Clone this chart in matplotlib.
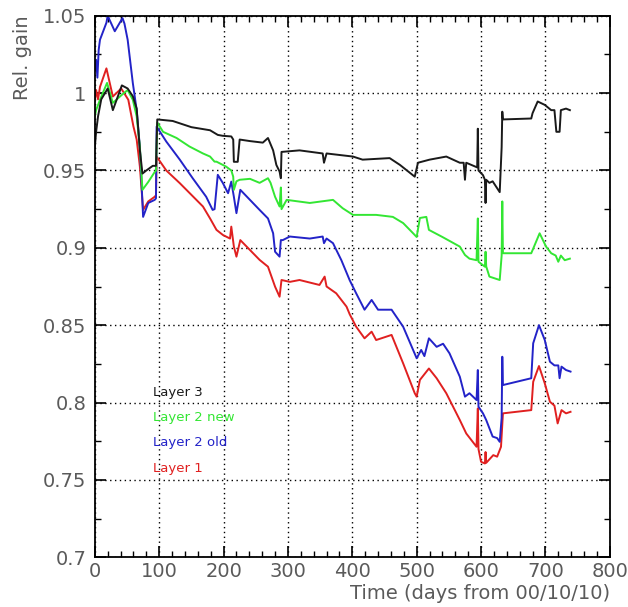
import matplotlib
matplotlib.use("Agg")
import matplotlib.pyplot as plt
from matplotlib.ticker import MultipleLocator, FormatStrFormatter, FuncFormatter

# Layer 3 (black)
days_l3 = [0, 2, 5, 10, 20, 28, 42, 51, 59, 65, 70, 74, 80, 90, 95, 97, 121, 150,
           179, 191, 199, 212, 215, 216, 222, 225, 241, 261, 269, 277, 282, 287,
           289, 290, 318, 354, 356, 360, 401, 416, 458, 474, 497, 502, 520, 546,
           567, 573, 575, 577, 594, 595, 596, 603, 606, 607, 608, 613, 618, 629,
           632, 633, 634, 678, 680, 688, 699, 709, 714, 717, 722, 724, 732, 738]
gain_l3 = [0.965, 0.975, 0.985, 0.996, 1.003, 0.989, 1.005, 1.003, 0.998, 0.990,
           0.963, 0.948, 0.950, 0.953, 0.953, 0.983, 0.982, 0.978, 0.976, 0.973,
           0.9724, 0.972, 0.970, 0.9556, 0.9556, 0.970, 0.969, 0.968, 0.971, 0.963,
           0.9536, 0.9493, 0.945, 0.962, 0.963, 0.961, 0.955, 0.961, 0.959, 0.957,
           0.958, 0.9536, 0.946, 0.955, 0.957, 0.959, 0.955, 0.955, 0.944, 0.955,
           0.952, 0.977, 0.950, 0.947, 0.944, 0.929, 0.944, 0.942, 0.943, 0.936,
           0.965, 0.988, 0.983, 0.9836, 0.987, 0.9946, 0.9924, 0.989, 0.989, 0.975,
           0.975, 0.989, 0.990, 0.989]

# Layer 2 new (green)
days_l2n = [0, 2, 8, 19, 28, 42, 51, 59, 65, 70, 74, 83, 93, 95, 97, 106, 127, 147,
            168, 179, 186, 189, 204, 212, 215, 216, 220, 225, 241, 256, 269, 273,
            280, 287, 289, 290, 298, 334, 370, 385, 401, 437, 463, 479, 494, 500,
            505, 515, 519, 540, 567, 575, 582, 593, 595, 596, 606, 607, 608, 613,
            629, 632, 633, 634, 678, 691, 701, 709, 716, 720, 724, 730, 738]
gain_l2n = [0.985, 0.989, 0.9957, 1.0066, 0.9937, 0.9989, 1.002, 0.9957, 0.985,
            0.965, 0.9375, 0.9426, 0.949, 0.950, 0.981, 0.975, 0.971, 0.9655, 0.961,
            0.959, 0.9557, 0.9557, 0.9525, 0.950, 0.946, 0.9375, 0.943, 0.944,
            0.9446, 0.942, 0.945, 0.942, 0.933, 0.9267, 0.939, 0.925, 0.931, 0.929,
            0.931, 0.9256, 0.9213, 0.9213, 0.920, 0.916, 0.9096, 0.907, 0.9193,
            0.920, 0.9116, 0.907, 0.9008, 0.8954, 0.893, 0.892, 0.919, 0.891,
            0.8878, 0.8975, 0.888, 0.8814, 0.8792, 0.895, 0.930, 0.8965, 0.8965,
            0.9094, 0.9008, 0.8965, 0.895, 0.891, 0.895, 0.892, 0.893]

# Layer 2 old (blue)
days_l2o = [0, 2, 4, 6, 8, 18, 20, 31, 43, 46, 51, 59, 65, 70, 75, 83, 93, 95, 96,
            111, 132, 152, 173, 183, 186, 191, 199, 207, 212, 216, 220, 226, 241,
            256, 269, 277, 280, 287, 289, 292, 303, 334, 354, 356, 360, 370, 383,
            396, 406, 419, 430, 440, 461, 479, 500, 507, 512, 519, 531, 541, 551,
            567, 575, 582, 593, 595, 596, 603, 608, 618, 625, 629, 632, 633, 634,
            678, 681, 690, 699, 707, 714, 720, 722, 725, 732, 739]
gain_l2o = [1.015, 1.0215, 1.010, 1.028, 1.0345, 1.0455, 1.050, 1.040, 1.0485,
            1.045, 1.0345, 1.0066, 0.989, 0.965, 0.920, 0.929, 0.931, 0.932, 0.9784,
            0.9687, 0.957, 0.945, 0.933, 0.9245, 0.925, 0.9472, 0.9418, 0.9353,
            0.9428, 0.933, 0.9224, 0.9375, 0.931, 0.9245, 0.919, 0.9094, 0.8975,
            0.8943, 0.905, 0.905, 0.9073, 0.906, 0.9073, 0.903, 0.906, 0.903, 0.892,
            0.879, 0.8706, 0.860, 0.8663, 0.860, 0.860, 0.849, 0.8286, 0.834, 0.830,
            0.8415, 0.836, 0.838, 0.8318, 0.8167, 0.8038, 0.806, 0.8016, 0.821,
            0.7973, 0.793, 0.7887, 0.778, 0.777, 0.7746, 0.790, 0.8296, 0.8113,
            0.8157, 0.8383, 0.850, 0.8404, 0.8264, 0.824, 0.824, 0.8157, 0.8232,
            0.821, 0.820]

# Layer 1 (red)
days_l1 = [0, 2, 5, 8, 18, 28, 41, 52, 60, 65, 70, 75, 83, 93, 95, 96, 111, 132,
           153, 168, 179, 189, 199, 210, 212, 216, 220, 226, 241, 256, 269, 280,
           287, 290, 303, 318, 349, 357, 360, 375, 391, 396, 406, 419, 430, 437,
           461, 479, 497, 500, 505, 519, 531, 546, 567, 577, 593, 595, 596, 600,
           606, 607, 608, 619, 625, 631, 634, 678, 681, 690, 699, 707, 714, 719,
           725, 732, 739]
gain_l1 = [0.995, 1.002, 0.996, 1.004, 1.016, 0.9978, 1.003, 0.9957, 0.9784, 0.970,
           0.9525, 0.9245, 0.930, 0.933, 0.934, 0.959, 0.950, 0.9418, 0.933, 0.9267,
           0.919, 0.9116, 0.9083, 0.906, 0.9137, 0.9008, 0.8943, 0.905, 0.8986,
           0.8922, 0.8878, 0.8749, 0.8684, 0.8792, 0.878, 0.8792, 0.876, 0.8814,
           0.875, 0.8706, 0.862, 0.857, 0.849, 0.8415, 0.8458, 0.8404, 0.8437,
           0.8253, 0.806, 0.8038, 0.8146, 0.822, 0.8157, 0.806, 0.7887, 0.780,
           0.7714, 0.7962, 0.770, 0.7617, 0.7606, 0.768, 0.761, 0.766, 0.765,
           0.7714, 0.793, 0.7951, 0.8134, 0.8236, 0.8124, 0.8005, 0.798, 0.7865,
           0.7951, 0.793, 0.794]

labels = ["Layer 3", "Layer 2 new", "Layer 2 old", "Layer 1"]
colors = ["#1a1a1a", "#33e633", "#2323c8", "#e02020"]
series = [(days_l3, gain_l3), (days_l2n, gain_l2n), (days_l2o, gain_l2o), (days_l1, gain_l1)]

txt = "#5a5a5a"

fig = plt.figure(figsize=(6.28, 6.07), dpi=100)
ax = fig.add_axes([0.151, 0.082, 0.820, 0.892])

# draw red first so black ends up on top
for (d, g), c in reversed(list(zip(series, colors))):
    ax.plot(d, g, color=c, lw=1.4)

ax.set_xlim(0, 800)
ax.set_ylim(0.7, 1.05)
ax.xaxis.set_major_locator(MultipleLocator(100))
ax.xaxis.set_minor_locator(MultipleLocator(20))
ax.yaxis.set_major_locator(MultipleLocator(0.05))
ax.yaxis.set_minor_locator(MultipleLocator(0.025))
ax.yaxis.set_major_formatter(FuncFormatter(lambda v, p: f"{v:g}"))

ax.grid(True, which="major", color="black", linestyle=(0, (1, 2.5)), lw=1.0)
ax.tick_params(which="both", direction="in", top=True, right=True,
               colors="black", labelcolor=txt, labelsize=14)
ax.tick_params(which="major", length=8, width=1.2)
ax.tick_params(which="minor", length=4, width=1.0)
ax.tick_params(axis="y", pad=6)
for s in ax.spines.values():
    s.set_linewidth(1.3)

ax.set_xlabel("Time (days from 00/10/10)", loc="right", fontsize=14, color=txt, labelpad=2)
ax.set_ylabel("Rel. gain", loc="top", fontsize=14, color=txt, labelpad=8)

for i, (lab, c) in enumerate(zip(labels, colors)):
    ax.text(0.113, 0.305 - i * 0.047, lab, color=c, fontsize=9.5,
            transform=ax.transAxes, va="center", ha="left")

fig.savefig("out.png", dpi=100)
